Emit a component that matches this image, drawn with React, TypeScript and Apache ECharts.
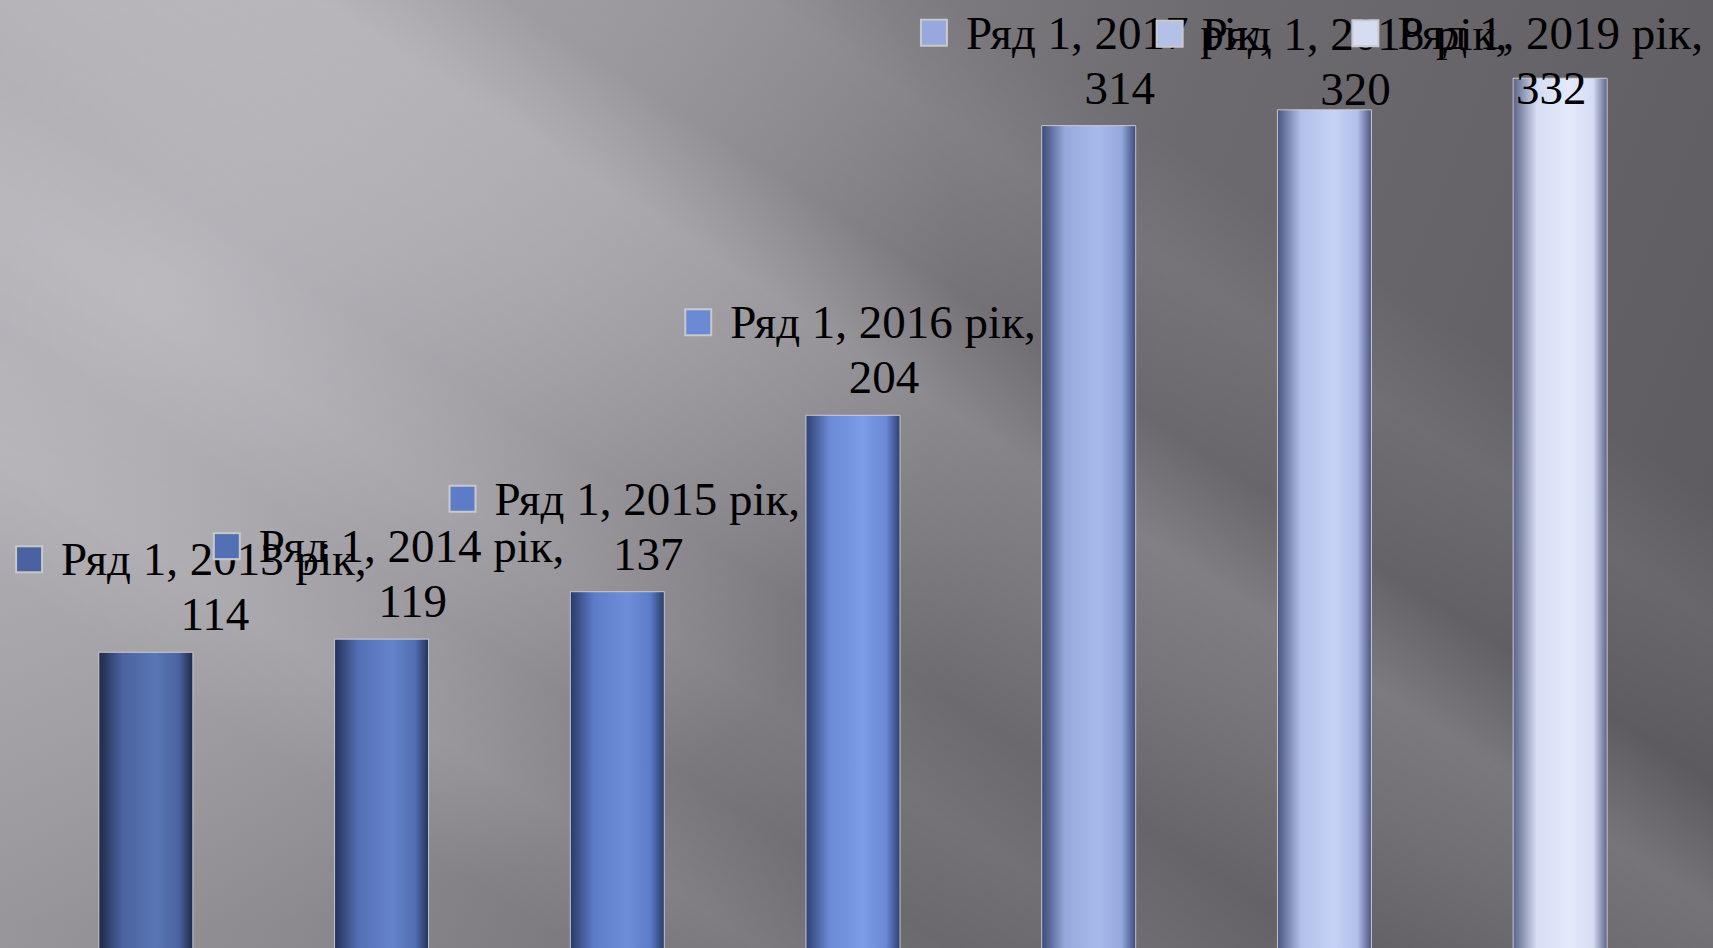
import React, { useEffect, useRef } from "react";
import * as echarts from "echarts";

const categories = ["2013 рік", "2014 рік", "2015 рік", "2016 рік", "2017 рік", "2018 рік", "2019 рік"];
const values = [114, 119, 137, 204, 314, 320, 332];
const seriesName = "Ряд 1";

const baseColors = ["#4a62a0", "#5470b5", "#5d7cc8", "#6b8ad6", "#97a9dc", "#b3c0e8", "#d6ddf3"];
const darkEdge = ["#1f2a48", "#24325a", "#2a3a66", "#2e4070", "#3a4a78", "#4a5680", "#5a6488"];
const lightMid = ["#5a76b4", "#6483c8", "#6d8ed8", "#7c9ce8", "#a8baea", "#c6d2f6", "#e4eafc"];
const labelDx = [46, 8, 8, 8, 8, 8, -32];
const labelDy = [0, 0, 0, 0, 0, 17, 48];

const FONT = "Liberation Serif";

export default function App() {
  const ref = useRef<HTMLDivElement>(null);
  useEffect(() => {
    if (!ref.current) return;
    const chart = echarts.init(ref.current, undefined, { renderer: "svg" });
    const data = values.map((v, i) => ({
      value: v,
      itemStyle: {
        color: new echarts.graphic.LinearGradient(0, 0, 1, 0, [
          { offset: 0, color: darkEdge[i] },
          { offset: 0.25, color: baseColors[i] },
          { offset: 0.6, color: lightMid[i] },
          { offset: 0.85, color: baseColors[i] },
          { offset: 1, color: darkEdge[i] },
        ]),
        borderColor: "rgba(215,215,225,0.85)",
        borderWidth: 1,
      },
      label: {
        show: true,
        position: "top",
        distance: 10,
        align: "center",
        fontFamily: FONT,
        fontSize: 47,
        color: "#000",
        formatter: () => `{k|}{g|}{t|${seriesName}, ${categories[i]},}\n{s|}{v|${v}}`,
        rich: {
          k: {
            width: 24,
            height: 24,
            backgroundColor: baseColors[i],
            borderColor: "#c9c9cc",
            borderWidth: 2,
            verticalAlign: "middle",
          },
          g: { width: 20 },
          s: { width: 46 },
          t: { fontFamily: FONT, fontSize: 47, color: "#000", lineHeight: 55, verticalAlign: "middle" },
          v: { fontFamily: FONT, fontSize: 47, color: "#000", lineHeight: 55, verticalAlign: "middle" },
        },
      },
    }));
    chart.setOption({
      animation: false,
      backgroundColor: "transparent",
      grid: { left: 28, right: 35, top: 4, bottom: 0, containLabel: false },
      xAxis: {
        type: "category",
        data: categories,
        axisLine: { show: false },
        axisTick: { show: false },
        axisLabel: { show: false },
      },
      yAxis: {
        type: "value",
        min: 0,
        max: 360,
        axisLine: { show: false },
        axisTick: { show: false },
        axisLabel: { show: false },
        splitLine: { show: false },
      },
      series: [
        {
          type: "bar",
          name: seriesName,
          barWidth: 95,
          data,
          labelLayout: (p: any) => ({
            dx: labelDx[p.dataIndex],
            dy: labelDy[p.dataIndex],
            hideOverlap: false,
          }),
        },
      ],
    });
    return () => chart.dispose();
  }, []);

  const bg = [
    "linear-gradient(33deg, rgba(255,255,255,0) 42%, rgba(255,255,255,0.10) 50%, rgba(255,255,255,0.16) 56%, rgba(255,255,255,0) 62%, rgba(255,255,255,0.07) 70%, rgba(255,255,255,0) 76%)",
    "linear-gradient(33deg, rgba(255,255,255,0) 18%, rgba(255,255,255,0.08) 24%, rgba(255,255,255,0) 30%, rgba(255,255,255,0.06) 36%, rgba(255,255,255,0) 42%)",
    "radial-gradient(ellipse 800px 650px at 160px 280px, rgba(196,194,200,0.7), rgba(196,194,200,0) 100%)",
    "linear-gradient(112deg, #a7a5aa 0%, #8c8a8f 32%, #6d6b70 58%, #5a585d 100%)",
  ].join(",");

  return (
    <div
      style={{
        position: "fixed",
        left: 0,
        top: 0,
        width: 1713,
        height: 948,
        overflow: "hidden",
        background: bg,
      }}
    >
      <div ref={ref} style={{ width: 1713, height: 952 }} />
    </div>
  );
}
